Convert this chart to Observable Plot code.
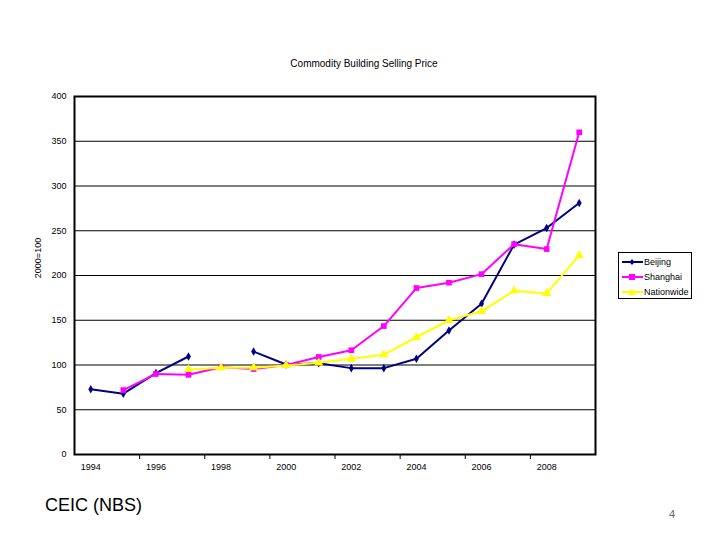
<!DOCTYPE html>
<html>
<head>
<meta charset="utf-8">
<script src="https://cdn.jsdelivr.net/npm/d3@7"></script>
<script src="https://cdn.jsdelivr.net/npm/@observablehq/plot@0.6"></script>
<style>
  html, body { margin: 0; padding: 0; background: #fff; }
  #wrap { position: relative; width: 720px; height: 540px; overflow: hidden; font-family: "Liberation Sans", Arial, sans-serif; }
  #wrap svg { position: absolute; left: 0; top: 0; }
  .abs { position: absolute; white-space: nowrap; }
</style>
</head>
<body>
<div id="wrap"></div>
<script>
const years = [1994,1995,1996,1997,1998,1999,2000,2001,2002,2003,2004,2005,2006,2007,2008,2009];
const beijing = [73,68,91,109.5,null,115,100.5,102,96.5,96.5,107,138.5,168.5,234.5,253,281];
const shanghai = [null,72,90,89,97.5,95.5,100,109,116.5,143.5,186,192,201.5,235,229.5,360];
const nationwide = [null,null,null,95,97,97,99.5,102.5,107,111.5,131,150,160,183,180,222.5];
const yTicks = [0,50,100,150,200,250,300,350,400];
const xLabels = [1994,1996,1998,2000,2002,2004,2006,2008];
const xTickMarks = [1995.5,1997.5,1999.5,2001.5,2003.5,2005.5,2007.5];

const series = [
  {name: "Beijing", values: beijing, color: "#000080", symbol: "diamond", r: 2.6},
  {name: "Shanghai", values: shanghai, color: "#ff00ff", symbol: "square", r: 3.2},
  {name: "Nationwide", values: nationwide, color: "#ffff00", symbol: "triangle", r: 3.4}
];
const rows = series.flatMap(s => years.map((yr, i) => ({series: s.name, year: yr, value: s.values[i]})));

const marks = [
  Plot.gridY(yTicks, {stroke: "#000", strokeOpacity: 1, strokeWidth: 1}),
  Plot.axisY({ticks: yTicks, tickSize: 0, tickPadding: 8, fontSize: 9, tickFormat: d => String(d)}),
  Plot.axisX({ticks: xLabels, tickSize: 0, tickPadding: 9, fontSize: 9, tickFormat: d => String(d)}),
  Plot.axisX({ticks: xTickMarks, tickSize: 5, tickFormat: () => "", stroke: "#000", strokeWidth: 1})
];
for (const s of series) {
  const data = rows.filter(r => r.series === s.name);
  marks.push(Plot.line(data, {x: "year", y: "value", stroke: s.color, strokeWidth: 2}));
  marks.push(Plot.dot(data.filter(d => d.value != null), {x: "year", y: "value", symbol: () => s.symbol, fill: s.color, stroke: "none", r: s.r}));
}
marks.push(Plot.frame({stroke: "#000", strokeWidth: 2}));

const chart = Plot.plot({
  width: 720,
  height: 540,
  marginLeft: 74,
  marginRight: 125,
  marginTop: 96,
  marginBottom: 86,
  x: {domain: [1993.5, 2009.5], label: null},
  y: {domain: [0, 400], label: null},
  symbol: {type: "identity"},
  style: {fontFamily: "Liberation Sans, Arial, sans-serif", fontSize: "9px", color: "#000", background: "transparent"},
  marks
});
const wrap = document.getElementById("wrap");
wrap.appendChild(chart);

function addText(txt, css) {
  const d = document.createElement("div");
  d.className = "abs";
  d.textContent = txt;
  Object.assign(d.style, css);
  wrap.appendChild(d);
  return d;
}
addText("Commodity Building Selling Price", {left: "0px", width: "728px", textAlign: "center", top: "58px", fontSize: "10px"});
addText("2000=100", {left: "38px", top: "258px", fontSize: "9px", transform: "translate(-50%,-50%) rotate(-90deg)"});
addText("CEIC (NBS)", {left: "45px", top: "495px", fontSize: "18px", fontFamily: "Liberation Sans, Arial, sans-serif"});
addText("4", {left: "669px", top: "508px", fontSize: "11px", color: "#666"});

// legend
const leg = document.createElement("div");
leg.className = "abs";
Object.assign(leg.style, {left: "618px", top: "252px", width: "72px", height: "45px", border: "1px solid #000", background: "#fff", fontSize: "9px"});
series.forEach((s, i) => {
  const row = document.createElement("div");
  Object.assign(row.style, {position: "absolute", left: "3px", top: (3 + i * 15) + "px", height: "12px", display: "flex", alignItems: "center"});
  const sym = s.symbol === "diamond" ? '<path d="M10,3 L12.5,6 L10,9 L7.5,6 Z" fill="' + s.color + '"/>'
            : s.symbol === "square" ? '<rect x="7" y="3" width="6" height="6" fill="' + s.color + '"/>'
            : '<path d="M10,2 L13.5,9 L6.5,9 Z" fill="' + s.color + '"/>';
  row.innerHTML = '<svg width="21" height="12" style="position:static"><line x1="0" y1="6" x2="21" y2="6" stroke="' + s.color + '" stroke-width="2"/>' + sym + '</svg><span style="margin-left:1px">' + s.name + '</span>';
  leg.appendChild(row);
});
wrap.appendChild(leg);
</script>
</body>
</html>
